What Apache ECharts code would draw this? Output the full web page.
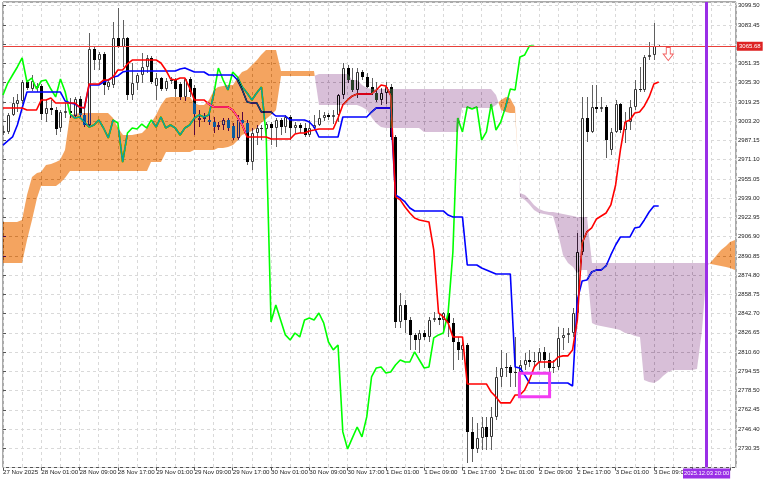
<!DOCTYPE html>
<html><head><meta charset="utf-8">
<script src="https://cdn.jsdelivr.net/npm/echarts@6/dist/echarts.min.js"></script>
<style>html,body{margin:0;padding:0;background:#fff}#c{width:768px;height:480px}</style>
</head><body><div id="c"></div>
<script>
// ---- DATA (ETHUSD H1, bar index 0 = 27 Nov 2025 17:00) ----
const xTickLabels = ["27 Nov 2025","28 Nov 01:00","28 Nov 09:00","28 Nov 17:00","29 Nov 01:00","29 Nov 09:00","29 Nov 17:00","30 Nov 01:00","30 Nov 09:00","30 Nov 17:00","1 Dec 01:00","1 Dec 09:00","1 Dec 17:00","2 Dec 01:00","2 Dec 09:00","2 Dec 17:00","3 Dec 01:00","3 Dec 09:00"];

const openP = [2993.3,2994.2,3008.3,3017.5,3020.0,3035.9,3030.0,3030.9,3032.5,3009.2,
3014.2,3012.5,2997.5,3010.0,3011.7,3007.5,3021.7,3008.3,3000.0,3063.4,
3054.2,3059.2,3031.7,3033.4,3072.6,3065.1,3072.6,3025.0,3035.0,3041.7,
3048.4,3055.9,3032.5,3039.2,3030.0,3036.7,3037.5,3034.2,3023.4,3038.4,
3030.9,3004.2,3005.0,3004.2,3002.5,2998.3,3000.0,3004.2,2999.2,2989.2,
3004.2,3001.7,2969.1,2993.3,2997.5,2996.7,3000.8,2997.5,3004.2,2998.3,
3006.7,2997.5,3000.0,2997.5,2991.7,2997.5,3000.0,3005.8,3008.3,3006.7,
3008.3,3025.0,3047.5,3037.5,3029.2,3044.2,3040.0,3031.7,3026.7,3020.9,
3026.7,3031.7,2990.0,2835.7,2849.9,2837.4,2824.9,2820.7,2826.5,2823.2,
2837.4,2839.0,2837.4,2843.2,2834.9,2819.0,2812.4,2816.5,2744.0,2729.8,
2739.0,2748.1,2739.8,2756.5,2789.8,2797.3,2798.2,2793.2,2794.0,2799.8,
2804.0,2803.2,2802.3,2810.7,2804.0,2797.3,2798.2,2822.4,2824.9,2826.5,
2843.2,2894.1,3005.8,2994.2,3015.0,3013.3,3015.0,2979.2,2994.2,3017.5,
2995.8,3002.5,3015.0,3030.0,3029.2,3056.7,3058.4,3065.9];

const closeP = [2995.0,3008.3,3018.4,3020.9,3035.9,3030.9,3036.7,3032.5,3009.2,3014.2,
3012.5,2996.7,3010.8,3011.7,3010.0,3021.7,3008.3,3000.0,3063.4,3054.2,
3059.2,3033.4,3035.9,3072.6,3065.1,3072.6,3025.0,3035.0,3041.7,3048.4,
3055.9,3035.9,3039.2,3030.0,3036.7,3037.5,3030.0,3023.4,3038.4,3027.5,
3009.2,3005.8,3006.7,3002.5,2998.3,3000.0,3004.2,2997.5,2989.2,3004.2,
3001.7,2969.1,2993.3,2997.5,2996.7,3000.8,2997.5,3004.2,2998.3,3006.7,
2997.5,3000.0,2997.5,2991.7,2997.5,3000.0,3005.8,3008.3,3006.7,3008.3,
3025.0,3047.5,3037.5,3029.2,3044.2,3040.0,3031.7,3026.7,3020.9,3026.7,
3031.7,2990.0,2835.7,2849.9,2837.4,2824.9,2820.7,2826.5,2823.2,2837.4,
2839.0,2837.4,2843.2,2834.9,2819.0,2812.4,2816.5,2744.0,2729.8,2739.0,
2748.1,2739.8,2756.5,2789.8,2797.3,2798.2,2793.2,2794.0,2799.8,2804.0,
2802.3,2802.3,2810.7,2804.0,2797.3,2798.2,2822.4,2824.9,2826.5,2843.2,
2894.1,3005.8,2994.2,3015.0,3013.3,3015.0,2987.5,2994.2,3017.5,2995.8,
3002.5,3015.0,3030.0,3029.2,3056.7,3058.4,3065.9,3065.68];

const highP = [2999.2,3010.0,3023.4,3025.9,3037.5,3037.5,3041.7,3035.0,3034.2,3020.9,
3020.9,3015.0,3012.5,3018.4,3022.5,3023.4,3024.2,3015.0,3076.7,3065.1,
3060.9,3060.9,3037.5,3085.9,3097.6,3087.6,3073.4,3051.7,3043.4,3060.1,
3058.4,3057.5,3043.4,3040.0,3039.2,3040.0,3039.2,3035.9,3039.2,3040.0,
3033.4,3012.5,3010.0,3010.0,3006.7,3002.5,3005.8,3005.8,3001.7,3008.3,
3010.8,3004.2,2997.5,3000.0,3000.0,3002.5,3002.5,3005.8,3005.8,3008.3,
3008.3,3002.5,3001.7,3001.7,3004.2,3008.3,3012.5,3010.8,3010.0,3012.5,
3025.9,3051.7,3050.0,3047.5,3047.5,3045.9,3043.4,3039.2,3035.9,3030.9,
3035.9,3034.2,2991.7,2859.9,2854.1,2839.9,2826.5,2829.0,2829.0,2839.9,
2844.0,2843.2,2844.0,2845.7,2839.0,2823.2,2823.2,2818.2,2756.5,2751.5,
2756.5,2756.5,2764.8,2798.2,2812.4,2809.9,2799.8,2823.2,2804.0,2809.9,
2812.4,2810.7,2814.0,2814.9,2809.9,2804.0,2831.5,2830.7,2830.7,2847.4,
2909.9,3023.4,3023.4,3033.4,3033.4,3023.4,3016.7,2997.5,3020.9,3018.4,
3010.8,3020.9,3037.5,3048.4,3058.4,3069.2,3085.1,3066.7];

const lowP = [2991.7,2992.5,3007.5,3010.8,3017.5,3029.2,3028.4,3027.5,3004.2,3002.5,
3008.3,2991.7,2994.2,3005.8,3005.8,3005.8,3006.7,2998.3,2998.3,3045.9,
3045.9,3025.0,3029.2,3030.9,3064.2,3048.4,3020.9,3020.9,3029.2,3035.0,
3043.4,3034.2,3020.9,3028.4,3028.4,3034.2,3023.4,3020.9,3020.0,3023.4,
2991.7,2998.3,3002.5,3000.0,2993.3,2995.8,2995.8,2995.0,2987.5,2987.5,
2998.3,2966.6,2962.5,2983.3,2987.5,2990.0,2983.3,2981.7,2991.7,2993.3,
2987.5,2993.3,2993.3,2990.0,2990.0,2995.8,2999.2,3003.3,3004.2,3000.8,
3002.5,3021.7,3035.0,3027.5,3022.5,3037.5,3030.9,3025.0,3019.2,3016.7,
3017.5,2987.5,2830.7,2830.7,2826.5,2812.4,2812.4,2809.9,2820.7,2819.0,
2835.7,2833.2,2826.5,2823.2,2795.7,2804.0,2804.0,2718.1,2718.9,2726.5,
2729.0,2729.0,2729.0,2754.0,2781.5,2789.8,2781.5,2781.5,2783.2,2795.7,
2798.2,2797.3,2795.7,2797.3,2793.2,2793.2,2795.7,2812.4,2818.2,2823.2,
2837.4,2891.6,2985.8,2993.3,3010.0,3010.8,2972.5,2975.0,2993.3,2993.3,
2985.0,2995.8,3012.5,3027.5,3027.5,3054.2,3054.2,3065.1];

// Tenkan-sen (red)
const tenkan = [3014.2,3014.2,3014.2,3014.2,3014.2,3012.5,3012.5,3012.5,3020.9,3020.9,
3022.5,3018.4,3018.4,3018.4,3018.4,3018.4,3015.0,3014.2,3034.2,3034.2,
3034.2,3037.5,3037.5,3040.0,3045.9,3045.9,3050.9,3054.2,3054.2,3054.2,
3054.2,3054.2,3054.2,3051.7,3045.9,3038.4,3037.5,3039.2,3039.2,3030.9,
3020.9,3020.9,3020.9,3017.5,3015.0,3015.0,3015.0,3015.0,3012.5,3006.7,
3000.0,2990.0,2990.0,2990.0,2990.0,2990.0,2988.3,2988.3,2988.3,2988.3,
2988.3,2992.5,2993.3,2993.3,2995.0,2995.8,2996.7,2996.7,2996.7,2996.7,
3005.8,3016.7,3020.9,3024.2,3025.9,3025.9,3025.9,3025.9,3029.2,3033.4,
3032.5,3025.0,2940.0,2937.5,2931.6,2926.6,2922.4,2920.8,2919.9,2919.1,
2895.8,2843.2,2839.9,2834.9,2823.2,2823.2,2823.2,2784.0,2784.0,2784.0,
2784.0,2784.0,2777.3,2773.2,2768.2,2768.2,2768.2,2774.8,2774.8,2779.0,
2787.3,2798.2,2802.3,2802.3,2802.3,2802.3,2806.5,2807.4,2807.4,2812.4,
2837.4,2901.6,2910.8,2914.1,2921.6,2924.1,2926.6,2933.3,2950.0,2979.2,
3002.5,3004.2,3010.0,3010.8,3015.9,3023.4,3034.2,3035.9];

// Kijun-sen (blue)
const kijun = [2983.3,2986.7,2990.0,3000.0,3014.2,3027.5,3027.5,3027.5,3027.5,3027.5,
3027.5,3027.5,3027.5,3020.0,3018.4,3017.5,3015.0,3014.2,3033.4,3033.4,
3033.4,3035.9,3037.5,3040.0,3040.9,3044.2,3045.0,3045.0,3045.0,3045.0,
3045.0,3045.0,3045.0,3045.0,3045.0,3045.0,3045.0,3046.7,3047.5,3045.9,
3044.2,3044.2,3044.2,3041.7,3041.7,3041.7,3041.7,3041.7,3041.7,3037.5,
3029.2,3019.2,3018.4,3018.4,3010.8,3010.8,3010.8,3007.5,3007.5,3007.5,
3004.2,3004.2,3004.2,3004.2,3002.5,2998.3,2990.0,2990.0,2990.0,2990.0,
2990.0,3006.7,3006.7,3006.7,3006.7,3006.7,3006.7,3010.8,3014.2,3014.2,
3014.2,3014.2,2941.6,2939.1,2935.8,2930.8,2928.3,2928.3,2928.3,2928.3,
2928.3,2928.3,2928.3,2924.9,2923.3,2923.3,2923.3,2883.2,2883.2,2883.2,
2880.7,2879.1,2877.4,2875.7,2875.7,2875.7,2875.7,2798.2,2797.3,2791.5,
2784.8,2784.8,2784.8,2784.8,2784.8,2784.8,2784.8,2784.8,2784.8,2782.3,
2854.1,2869.9,2870.7,2877.4,2879.1,2879.1,2882.4,2891.6,2899.9,2906.6,
2906.6,2906.6,2914.1,2914.9,2920.8,2927.4,2932.4,2932.4];

// Chikou span (lime), plotted from bar 0 (26 bars back)
const chikou = [3025.0,3035.0,3041.7,3048.4,3055.9,3035.9,3039.2,3030.0,3036.7,3037.5,
3030.0,3023.4,3038.4,3027.5,3009.2,3005.8,3006.7,3002.5,2998.3,3000.0,
3004.2,2997.5,2989.2,3004.2,3001.7,2969.1,2993.3,2997.5,2996.7,3000.8,
2997.5,3004.2,2998.3,3006.7,2997.5,3000.0,2997.5,2991.7,2997.5,3000.0,
3005.8,3008.3,3006.7,3008.3,3025.0,3047.5,3037.5,3029.2,3044.2,3040.0,
3031.7,3026.7,3020.9,3026.7,3031.7,2990.0,2835.7,2849.9,2837.4,2824.9,
2820.7,2826.5,2823.2,2837.4,2839.0,2837.4,2843.2,2834.9,2819.0,2812.4,
2816.5,2744.0,2729.8,2739.0,2748.1,2739.8,2756.5,2789.8,2797.3,2798.2,
2793.2,2794.0,2799.8,2804.0,2802.3,2802.3,2810.7,2804.0,2797.3,2798.2,
2822.4,2824.9,2826.5,2843.2,2894.1,3005.8,2994.2,3015.0,3013.3,3015.0,
2987.5,2994.2,3017.5,2995.8,3002.5,3015.0,3030.0,3029.2,3056.7,3058.4,
3065.9,3065.68];

// Senkou span A / B (cloud), shifted 26 bars forward
const spanA = [2919.1,2919.1,2919.1,2919.1,2920.8,2941.6,2956.6,2960.0,2960.8,2966.6,
2967.5,2969.1,2970.8,2979.2,3008.3,3009.2,3010.0,3010.0,3010.0,3010.0,
3010.0,3010.0,3010.0,3005.8,2997.5,2991.7,2991.7,2991.7,2992.5,2993.3,
2997.5,3001.7,3008.3,3016.7,3022.5,3023.4,3023.4,3023.4,3023.4,3023.4,
3018.4,3016.7,3016.7,3020.9,3029.2,3031.7,3032.5,3033.4,3033.4,3040.0,
3044.2,3045.9,3050.0,3054.2,3058.4,3062.6,3062.6,3062.6,3045.0,3045.0,
3045.0,3045.0,3045.0,3045.0,3045.0,3045.0,3016.7,3016.7,3016.7,3016.7,
3016.7,3016.7,3016.7,3016.7,3016.7,3015.0,3012.5,3005.8,3001.7,2998.3,
2997.5,2997.5,2997.5,2997.5,2997.5,2997.5,2997.5,2997.5,2994.2,2994.2,
2994.2,2994.2,2994.2,2994.2,2994.2,2994.2,3014.2,3014.2,3014.2,3014.2,
3014.2,3014.2,3014.2,3016.7,3020.9,3023.4,3022.5,3015.0,2940.0,2937.5,
2934.1,2929.1,2926.6,2925.8,2924.9,2924.1,2909.9,2891.6,2884.9,2881.6,
2876.6,2879.1,2879.1,2834.9,2833.2,2832.4,2831.5,2830.7,2829.9,2829.0,
2826.5,2825.7,2824.0,2823.2,2787.3,2785.7,2784.8,2787.3,2790.7,2794.0,
2795.7,2795.7,2795.7,2795.7,2795.7,2796.5,2829.0,2882.4,2885.7,2890.8,
2895.8,2899.1,2902.4,2904.1];

const spanB = [2884.9,2884.9,2884.9,2884.9,2884.9,2904.1,2920.8,2939.1,2949.1,2949.1,
2949.1,2949.1,2951.6,2955.8,2961.6,2961.6,2961.6,2961.6,2961.6,2961.6,
2961.6,2961.6,2961.6,2961.6,2961.6,2961.6,2961.6,2961.6,2961.6,2961.6,
2961.6,2969.1,2969.1,2969.1,2977.5,2977.5,2977.5,2977.5,2977.5,2977.5,
2979.2,2979.2,2979.2,2979.2,2979.2,2980.8,2980.8,2981.7,2983.3,2987.5,
2991.7,2993.3,2995.0,2997.5,3001.7,3005.0,3008.3,3012.5,3040.9,3040.9,
3040.9,3040.9,3040.9,3040.9,3040.9,3040.9,3042.5,3042.5,3042.5,3042.5,
3042.5,3042.5,3042.5,3037.5,3037.5,3033.4,3030.9,3030.0,3030.0,3030.0,
3030.0,3030.0,3030.0,3030.0,3030.0,3030.0,3030.0,3030.0,3030.0,3030.0,
3030.0,3030.0,3030.0,3030.0,3030.0,3030.0,3030.0,3030.0,3030.0,3030.0,
3030.0,3030.0,3030.0,3025.0,3012.5,3010.8,3010.0,3010.0,2943.3,2941.6,
2938.3,2933.3,2929.9,2928.3,2927.4,2927.4,2926.6,2925.8,2924.9,2924.1,
2923.3,2923.3,2923.3,2884.9,2884.9,2884.9,2884.9,2884.9,2884.9,2884.9,
2884.9,2884.9,2884.9,2884.9,2884.9,2884.9,2884.9,2884.9,2884.9,2884.9,
2884.9,2884.9,2884.9,2884.9,2884.9,2884.9,2884.9,2884.9,2884.1,2883.2,
2882.4,2881.6,2880.7,2879.1];

const bidPrice = 3065.68;
const vlineBar = 147;
const vlineText = "2025.12.03 20:00";
const arrowMark = [139, 3059.2];
const boxMark = [107.9, 2792.9, 114.2, 2773.4];

// ---- CHART ----
const chart = echarts.init(document.getElementById('c'), null, {renderer: 'canvas'});
const FONT = '"Liberation Sans", Arial, sans-serif';
const gridLine = {show: true, lineStyle: {color: '#d9d9d9', type: [3, 3], width: 1}};
const KUMO_UP_INV = '#0b5b9f', KUMO_DN_INV = '#274027';   // inverted sandybrown / thistle
let kumoBlend = true;

function renderCandle(params, api) {
  const i = api.value(0), o = api.value(1), c = api.value(2), h = api.value(3), l = api.value(4);
  const pO = api.coord([i, o]), pC = api.coord([i, c]);
  const yH = Math.round(api.coord([i, h])[1]), yL = Math.round(api.coord([i, l])[1]);
  const px = Math.round(pO[0]);
  const top = Math.round(Math.min(pO[1], pC[1])), bot = Math.round(Math.max(pO[1], pC[1]));
  const ch = [{type: 'line', shape: {x1: px + 0.5, y1: yH, x2: px + 0.5, y2: yL}, style: {stroke: '#606060', lineWidth: 1}}];
  if (bot - top < 2) {
    ch.push({type: 'line', shape: {x1: px - 1, y1: top + 0.5, x2: px + 2, y2: top + 0.5}, style: {stroke: '#222', lineWidth: 1}});
  } else if (c >= o) {
    ch.push({type: 'rect', shape: {x: px - 0.5, y: top + 0.5, width: 2, height: bot - top - 1}, style: {fill: '#fff', stroke: '#333', lineWidth: 1}});
  } else {
    ch.push({type: 'rect', shape: {x: px - 1, y: top, width: 3, height: bot - top}, style: {fill: '#000'}});
  }
  return {type: 'group', children: ch};
}

// one segment of the cloud between bar i and bar i+1 (linear, like DRAW_FILLING)
function renderCloud(params, api) {
  const i = api.value(0), a0 = api.value(1), b0 = api.value(2), a1 = api.value(3), b1 = api.value(4);
  const x0 = Math.round(api.coord([i, a0])[0]);
  const x1 = Math.round(api.coord([i + 1, a1])[0]);
  const ya0 = api.coord([i, a0])[1], yb0 = api.coord([i, b0])[1];
  const ya1 = api.coord([i + 1, a1])[1], yb1 = api.coord([i + 1, b1])[1];
  const d0 = a0 - b0, d1 = a1 - b1;
  const col = d => kumoBlend ? (d >= 0 ? KUMO_UP_INV : KUMO_DN_INV) : (d >= 0 ? '#f4a460' : '#d8bfd8');
  if (d0 === 0 || d1 === 0 || (d0 > 0) === (d1 > 0)) {
    const c = d0 === 0 ? col(d1) : col(d0);
    return {type: 'polygon', shape: {points: [[x0, ya0], [x1, ya1], [x1, yb1], [x0, yb0]]}, style: {fill: c}};
  }
  const t = d0 / (d0 - d1);
  const xc = x0 + t * (x1 - x0), yc = ya0 + t * (ya1 - ya0);
  return {type: 'group', children: [
    {type: 'polygon', shape: {points: [[x0, ya0], [xc, yc], [x0, yb0]]}, style: {fill: col(d0)}},
    {type: 'polygon', shape: {points: [[xc, yc], [x1, ya1], [x1, yb1]]}, style: {fill: col(d1)}}
  ]};
}

function renderBox(params, api) {
  const p0 = api.coord([api.value(0), api.value(1)]);
  const p1 = api.coord([api.value(2), api.value(3)]);
  return {type: 'rect', shape: {x: Math.min(p0[0], p1[0]), y: Math.min(p0[1], p1[1]), width: Math.abs(p1[0] - p0[0]), height: Math.abs(p1[1] - p0[1])},
    style: {fill: 'none', stroke: '#f23cf2', lineWidth: 3}};
}

function buildOption() {
  const cloudData = [];
  for (let i = 0; i + 1 < spanA.length; i++) cloudData.push([i, spanA[i], spanB[i], spanA[i + 1], spanB[i + 1]]);
  return {
  backgroundColor: '#ffffff',
  animation: false,
  grid: {left: 1.5, right: 32, top: 2, bottom: 12.5, show: true, borderColor: '#555', borderWidth: 1},
  xAxis: {
    type: 'value', min: 0, max: 153.15, interval: 8,
    axisLine: {show: false},
    axisTick: {show: true, length: 3, lineStyle: {color: '#555'}},
    axisLabel: {
      formatter: v => (v % 8 === 0 && xTickLabels[v / 8] !== undefined) ? xTickLabels[v / 8] : '',
      align: 'left', margin: 2, fontSize: 6.2, color: '#222', fontFamily: FONT,
      showMaxLabel: false, hideOverlap: false
    },
    splitLine: gridLine,
    minorTick: {show: false, splitNumber: 2},
    minorSplitLine: gridLine
  },
  yAxis: {
    type: 'value', position: 'right', min: 2714.30, max: 3102.6, interval: 16.05,
    axisLine: {show: false},
    axisTick: {show: true, length: 3, lineStyle: {color: '#555'}},
    axisLabel: {formatter: v => v.toFixed(2), margin: 2, fontSize: 6, color: '#222', fontFamily: FONT,
      showMinLabel: false, showMaxLabel: false},
    splitLine: gridLine
  },
  series: [
    {
      name: 'candles', type: 'custom', z: 2, silent: true, clip: true,
      renderItem: renderCandle,
      encode: {x: 0, y: [1, 2, 3, 4]},
      data: openP.map((o, i) => [i, o, closeP[i], highP[i], lowP[i]])
    },
    {
      name: 'Chikou', type: 'line', z: 3, silent: true, showSymbol: false, symbol: 'none',
      lineStyle: {color: '#00ff00', width: 1.6},
      data: chikou.map((v, i) => [i, v])
    },
    {
      name: 'Kijun', type: 'line', z: 3, silent: true, showSymbol: false, symbol: 'none',
      lineStyle: {color: '#0000ff', width: 1.6},
      data: kijun.map((v, i) => [i, v])
    },
    {
      name: 'Tenkan', type: 'line', z: 3, silent: true, showSymbol: false, symbol: 'none',
      lineStyle: {color: '#ff0000', width: 1.6},
      data: tenkan.map((v, i) => [i, v])
    },
    {
      name: 'Kumo', type: 'custom', z: kumoBlend ? 4 : 1, silent: true, clip: true,
      renderItem: renderCloud,
      encode: {x: 0, y: [1, 2, 3, 4]},
      data: cloudData
    },
    {
      name: 'box', type: 'custom', z: 6, silent: true, clip: true,
      renderItem: renderBox,
      encode: {x: [0, 2], y: [1, 3]},
      data: [boxMark]
    },
    {
      name: 'arrow', type: 'scatter', z: 6, silent: true,
      symbol: 'path://M3,0L7,0L7,6L10,6L5,12L0,6L3,6Z', symbolSize: [10, 13],
      itemStyle: {color: '#ffffff', borderColor: '#ee3333', borderWidth: 1},
      data: [arrowMark]
    },
    {
      name: 'marks', type: 'line', z: 7, silent: true, clip: false, data: [],
      markLine: {
        silent: true, symbol: ['none', 'none'], animation: false,
        data: [
          {yAxis: bidPrice, lineStyle: {color: '#e8403a', width: 1, type: 'solid'},
            label: {show: true, position: 'end', distance: 1, formatter: bidPrice.toFixed(2),
              backgroundColor: '#dd2222', color: '#fff', fontSize: 6, lineHeight: 7, padding: [1, 2, 1, 2], fontFamily: FONT}},
          {xAxis: vlineBar, lineStyle: {color: '#9a2fe6', width: 3, type: 'solid'},
            label: {show: true, position: 'start', distance: 1, formatter: vlineText,
              backgroundColor: '#9a2fe6', color: '#fff', fontSize: 5.8, lineHeight: 8, padding: [1, 1, 1, 1], fontFamily: FONT}}
        ]
      }
    }
  ]
  };
}
chart.setOption(buildOption());

// MT5 paints the kumo with an inverting raster op; emulate it with 'difference' compositing.
(function applyKumoBlend() {
  let ok = false;
  try {
    const zr = chart.getZr();
    const list = zr.storage.getDisplayList(true);
    list.forEach(el => {
      const f = el.style && el.style.fill;
      if (f === KUMO_UP_INV || f === KUMO_DN_INV) { el.style.blend = 'difference'; if (el.markRedraw) el.markRedraw(); }
    });
    zr.refreshImmediately();
    const cv = chart.getDom().querySelector('canvas');
    const p = cv.getContext('2d').getImageData(10, 245, 1, 1).data;
    ok = p[0] > 200 && p[1] > 130 && p[1] < 200 && p[2] < 150;
  } catch (e) { ok = false; }
  if (!ok) {
    kumoBlend = false;
    chart.setOption(buildOption(), true);
  }
})();
</script>
</body></html>
